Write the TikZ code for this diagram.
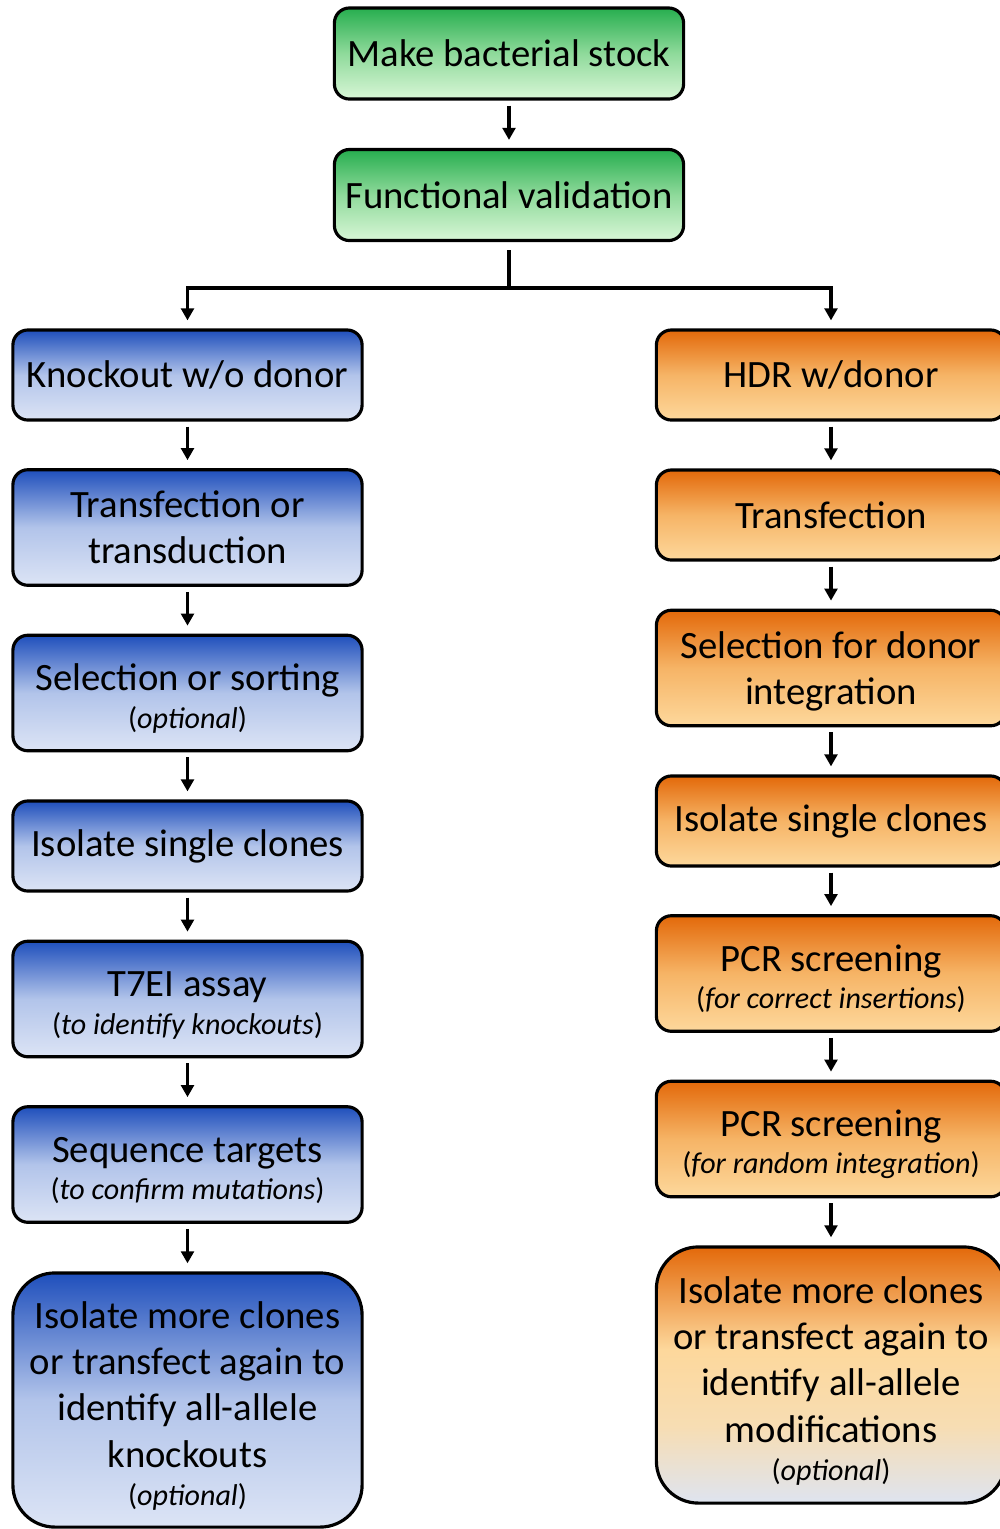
\documentclass[tikz,border=0pt]{standalone}
\usepackage{fontspec}
\setmainfont{Carlito}
\usetikzlibrary{arrows.meta}
\definecolor{gtop}{HTML}{27AE4F}
\definecolor{gmid}{HTML}{8FDA9B}
\definecolor{gbot}{HTML}{D8F6D6}
\definecolor{btop}{HTML}{1F4FBC}
\definecolor{bmid}{HTML}{B2C4EA}
\definecolor{bbot}{HTML}{DCE4F5}
\definecolor{otop}{HTML}{E3690A}
\definecolor{omid}{HTML}{F6B466}
\definecolor{obot}{HTML}{FDD89C}
\definecolor{ogray}{HTML}{DEE4F0}
\definecolor{olite}{HTML}{F7DDB3}
\pgfdeclareverticalshading{greenshade}{100bp}{color(0bp)=(gbot); color(25bp)=(gbot); color(50bp)=(gmid); color(75bp)=(gtop); color(100bp)=(gtop)}
\pgfdeclareverticalshading{blueshade}{100bp}{color(0bp)=(bbot); color(25bp)=(bbot); color(50bp)=(bmid); color(75bp)=(btop); color(100bp)=(btop)}
\pgfdeclareverticalshading{orangeshade}{100bp}{color(0bp)=(obot); color(25bp)=(obot); color(50bp)=(omid); color(75bp)=(otop); color(100bp)=(otop)}
\pgfdeclareverticalshading{orangegrayshade}{100bp}{color(0bp)=(ogray); color(25bp)=(ogray); color(40bp)=(olite); color(55bp)=(obot); color(75bp)=(otop); color(100bp)=(otop)}
\newcommand{\mainsz}{\fontsize{11pt}{13.1pt}\selectfont}
\newcommand{\optx}[1]{{\fontsize{8.55pt}{10pt}\selectfont(\textit{#1})}}
\newcommand{\fstrut}{\rule{0pt}{10.6pt}}
\tikzset{
  box/.style={draw=black, line width=0.9pt, rounded corners=0.15cm, minimum width=3.49cm,
    inner sep=0pt, align=center, font=\mainsz, text=black},
  bigbox/.style={box, rounded corners=0.42cm},
  greenbox/.style={box, shading=greenshade},
  bluebox/.style={box, shading=blueshade},
  orangebox/.style={box, shading=orangeshade},
  hone/.style={minimum height=0.9cm},
  htwo/.style={minimum height=1.155cm},
  arr/.style={line width=0.9pt, -{Triangle[width=3.6pt,length=3.4pt]}, shorten <=0.05cm, shorten >=0.08cm},
  conn/.style={line width=0.9pt},
}
\begin{document}
\begin{tikzpicture}[x=0.01cm,y=-0.01cm]
\useasboundingbox (0,0) rectangle (1000,1529);
\clip (0,0) rectangle (1000,1529);
% top
\node[greenbox,hone,minimum height=0.91cm] (mk) at (509,53.5) {Make bacterial stock};
\node[greenbox,hone,minimum height=0.91cm] (fv) at (509,195) {Functional validation};
% left column
\node[bluebox,hone] (l1) at (187.5,375) {Knockout w/o donor};
\node[bluebox,htwo] (l2) at (187.5,527.5) {Transfection or\\transduction};
\node[bluebox,htwo] (l3) at (187.5,693) {\fstrut Selection or sorting\\[-2.3pt]\optx{optional}};
\node[bluebox,hone] (l4) at (187.5,846) {Isolate single clones};
\node[bluebox,htwo] (l5) at (187.5,999) {\fstrut T7EI assay\\[-2.4pt]\optx{to identify knockouts}};
\node[bluebox,htwo] (l6) at (187.5,1164.5) {\fstrut Sequence targets\\[-2.4pt]\optx{to confirm mutations}};
\node[bluebox,bigbox,minimum height=2.54cm] (l7) at (187.5,1400) {\rule{0pt}{11pt}Isolate more clones\\or transfect again to\\identify all-allele\\knockouts\\[-2.3pt]\optx{optional}};
% right column
\node[orangebox,hone] (r1) at (831,375) {HDR w/donor};
\node[orangebox,hone] (r2) at (831,515) {Transfection};
\node[orangebox,htwo] (r3) at (831,668) {\rule{0pt}{9.8pt}Selection for donor\\integration};
\node[orangebox,hone] (r4) at (831,821) {Isolate single clones};
\node[orangebox,htwo] (r5) at (831,973.5) {\fstrut PCR screening\\[-2.4pt]\optx{for correct insertions}};
\node[orangebox,htwo] (r6) at (831,1139) {\fstrut PCR screening\\[-2.4pt]\optx{for random integration}};
\node[box,bigbox,shading=orangegrayshade,minimum height=2.56cm] (r7) at (831,1375) {\rule{0pt}{11pt}Isolate more clones\\or transfect again to\\identify all-allele\\modifications\\[-2.3pt]\optx{optional}};
% connectors
\draw[arr] (mk) -- (fv);
\coordinate (split) at (509,288);
\draw[conn, shorten <=0.08cm] (fv.south) -- ([yshift=-0.015cm]split);
\draw[arr, shorten <=0pt] ([xshift=-0.015cm]split) -| (l1.north);
\draw[arr, shorten <=0pt] ([xshift=0.015cm]split) -| (r1.north);
\draw[arr] (l1) -- (l2);
\draw[arr] (l2) -- (l3);
\draw[arr] (l3) -- (l4);
\draw[arr] (l4) -- (l5);
\draw[arr] (l5) -- (l6);
\draw[arr] (l6) -- (l7);
\draw[arr] (r1) -- (r2);
\draw[arr] (r2) -- (r3);
\draw[arr] (r3) -- (r4);
\draw[arr] (r4) -- (r5);
\draw[arr] (r5) -- (r6);
\draw[arr] (r6) -- (r7);
\end{tikzpicture}
\end{document}
